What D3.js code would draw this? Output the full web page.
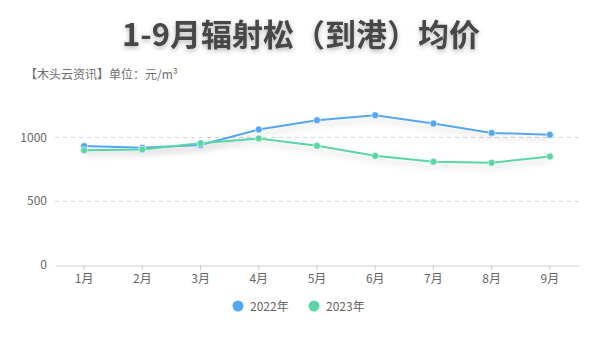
<!DOCTYPE html>
<html>
<head>
<meta charset="utf-8">
<script src="https://cdn.jsdelivr.net/npm/d3@7"></script>
<style>
  html, body { margin: 0; padding: 0; background: #fff; }
  svg { display: block; font-family: "Noto Sans CJK SC", "Noto Sans", sans-serif; }
</style>
</head>
<body>
<svg id="chart" width="600" height="340"></svg>
<script>
// Monthly average landed price of radiata pine (元/m³)
const months = ["1月", "2月", "3月", "4月", "5月", "6月", "7月", "8月", "9月"];
const seriesNames = ["2022年", "2023年"];
const prices2022 = [931, 918, 940, 1062, 1135, 1174, 1109, 1035, 1020];
const prices2023 = [899, 905, 954, 991, 933, 855, 808, 800, 850];
const yTicks = [0, 500, 1000];

const colors = ["#55a8f0", "#5bd5a5"];
const series = [
  { name: seriesNames[0], values: prices2022, color: colors[0] },
  { name: seriesNames[1], values: prices2023, color: colors[1] }
];

const svg = d3.select("#chart");
const defs = svg.append("defs");

defs.append("filter").attr("id", "titleShadow")
  .attr("x", "-10%").attr("y", "-40%").attr("width", "120%").attr("height", "180%")
  .append("feDropShadow")
  .attr("dx", 0).attr("dy", 2).attr("stdDeviation", 2.5)
  .attr("flood-color", "#000").attr("flood-opacity", 0.3);

defs.append("filter").attr("id", "lineShadow")
  .attr("x", "-10%").attr("y", "-50%").attr("width", "120%").attr("height", "200%")
  .append("feDropShadow")
  .attr("dx", 0).attr("dy", 4).attr("stdDeviation", 3)
  .attr("flood-color", "#000").attr("flood-opacity", 0.18);

// Title and subtitle
svg.append("text")
  .attr("x", 301).attr("y", 46)
  .attr("text-anchor", "middle")
  .attr("font-size", 31).attr("font-weight", "bold")
  .attr("fill", "#464646")
  .attr("filter", "url(#titleShadow)")
  .text("1-9月辐射松（到港）均价");

svg.append("text")
  .attr("x", 25).attr("y", 79)
  .attr("font-size", 12).attr("fill", "#6e6e6e")
  .text("【木头云资讯】单位：元/m³");

// Scales
const x = d3.scaleBand().domain(months).range([55, 579]).padding(0);
const y = d3.scaleLinear().domain([0, 1200]).range([264.5, 111.9]);
const cx = d => x(d) + x.bandwidth() / 2;

// Grid lines
svg.append("g")
  .selectAll("line")
  .data(yTicks.filter(t => t > 0))
  .join("line")
  .attr("x1", 55).attr("x2", 580)
  .attr("y1", d => Math.round(y(d)) + 0.5).attr("y2", d => Math.round(y(d)) + 0.5)
  .attr("stroke", "#d4d4d4").attr("stroke-dasharray", "4,4");

// Y axis labels
const yAxis = svg.append("g")
  .attr("transform", "translate(55,0)")
  .call(d3.axisLeft(y).tickValues(yTicks).tickFormat(d3.format("d")).tickSize(0).tickPadding(8));
yAxis.select(".domain").remove();
yAxis.selectAll("text").attr("fill", "#666").attr("font-size", 12)
  .attr("font-family", "'Noto Sans CJK SC', sans-serif");

// X axis
const xAxis = svg.append("g")
  .attr("transform", `translate(0,${Math.round(y(0)) + 0.5})`)
  .call(d3.axisBottom(x).tickSizeInner(5).tickSizeOuter(0).tickPadding(4));
xAxis.select(".domain").attr("stroke", "#cfcfcf").attr("stroke-width", 1.2);
xAxis.selectAll(".tick line").attr("stroke", "#cfcfcf");
xAxis.selectAll("text").attr("fill", "#666").attr("font-size", 12)
  .attr("font-family", "'Noto Sans CJK SC', sans-serif");

// Lines and markers
const line = d3.line().x((d, i) => cx(months[i])).y(d => y(d));

const sg = svg.append("g").selectAll("g").data(series).join("g");
sg.append("path")
  .attr("d", d => line(d.values))
  .attr("fill", "none")
  .attr("stroke", d => d.color)
  .attr("stroke-width", 2)
  .attr("filter", "url(#lineShadow)");
sg.each(function (s) {
  d3.select(this).selectAll("circle")
    .data(s.values)
    .join("circle")
    .attr("cx", (d, i) => cx(months[i]))
    .attr("cy", d => y(d))
    .attr("r", 3.5)
    .attr("fill", s.color)
    .attr("stroke", "#fff")
    .attr("stroke-width", 0.6);
});

// Legend
const legend = svg.append("g");
const legendX = [238, 314];
series.forEach((s, i) => {
  legend.append("circle")
    .attr("cx", legendX[i]).attr("cy", 306)
    .attr("r", 5.5).attr("fill", s.color);
  legend.append("text")
    .attr("x", legendX[i] + 12).attr("y", 310.5)
    .attr("font-size", 12).attr("fill", "#666")
    .text(s.name);
});
</script>
</body>
</html>
